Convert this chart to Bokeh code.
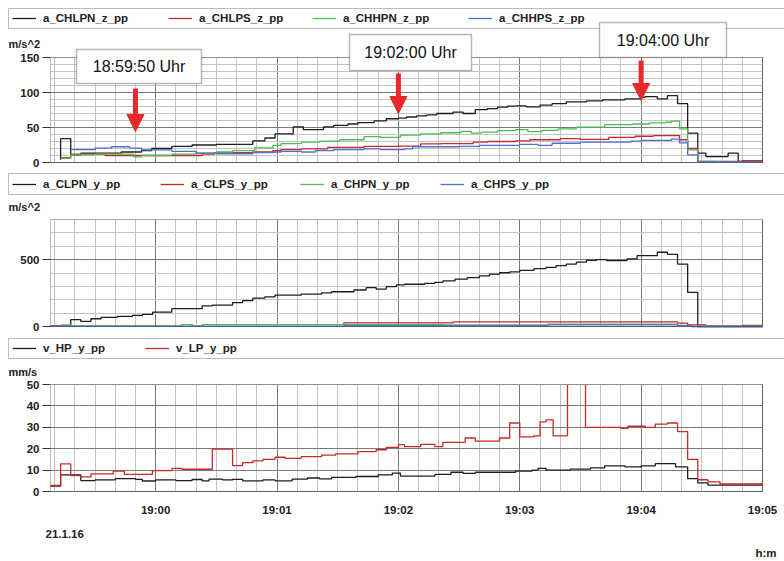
from bokeh.plotting import figure
from bokeh.layouts import column
from bokeh.models import (FixedTicker, Legend, LegendItem, Label, BoxAnnotation, Arrow,
                          NormalHead, Range1d, LinearAxis, Grid)
from bokeh.embed import file_html
from bokeh.resources import INLINE

# ---- time axis: seconds relative to 19:00:00 ----
X_START, X_END = -52, 300
tick_secs = [0, 60, 120, 180, 240, 300]
tick_labels = ["19:00", "19:01", "19:02", "19:03", "19:04", "19:05"]
minor_secs = list(range(-50, 301, 10))
date_label = "21.1.16"
time_unit = "h:m"

# ---- panel 1: z accelerations (m/s^2), step values (start time, value) ----
chlpn_z_t = [-47, -47, -42, -37, -17, -7, -2, 8, 18, 30, 48, 54, 59, 68, 73, 83, 88, 95, 100,
             108, 114, 120, 124, 129, 134, 139, 147, 152, 158, 164, 169, 174, 178, 183, 190,
             196, 203, 213, 221, 232, 240, 242, 248, 253, 258, 263, 268, 272, 283, 288, 300]
chlpn_z_v = [4, 34, 11, 13.5, 15, 17, 20, 23, 25, 26, 31, 35, 41, 51, 47, 51, 53, 55, 57,
             59.5, 62.5, 63.5, 65, 66.5, 68, 70, 72, 70, 75.5, 77, 79, 80.5, 81, 79.5, 82,
             84, 86.5, 88, 89.5, 91, 93, 94, 91, 95.5, 84, 42, 13.5, 8.5, 13.5, 1.5, 2]

chlps_z_t = [-47, -42, -25, 23, 29, 48, 58, 62, 72, 85, 103, 120, 131, 141, 157, 164, 178,
             185, 200, 210, 224, 237, 246, 259, 263, 268, 290, 300]
chlps_z_v = [7, 12, 10, 12, 14, 15, 17, 18.5, 19.5, 21.5, 23, 23.5, 26.5, 27, 29, 30, 31,
             32.5, 34, 33, 36, 37.5, 38.5, 32.5, 20, 1.5, 2.5, 2.5]

chhpn_z_t = [-47, -42, -30, -11, -7, 8, 20, 30, 38, 49, 58, 62, 72, 81, 91, 103, 111, 121,
             131, 141, 151, 156, 161, 169, 178, 184, 191, 199, 208, 222, 236, 244, 252, 255,
             259, 263, 268, 278, 300]
chhpn_z_v = [6, 11, 12, 8, 10, 12, 13.5, 15, 17, 21, 24.5, 27, 29, 30.5, 32.5, 37, 36, 39,
             41, 42.5, 44.5, 42, 43.5, 45.5, 47, 44, 46, 48, 50.5, 54, 55, 56.5, 57.5, 59,
             48, 18, 1.5, 0.5, 0.5]

chhps_z_t = [-42, -30, -22, -13, -7, 8, 20, 30, 48, 58, 62, 72, 79, 88, 103, 111, 123, 127,
             150, 160, 180, 189, 196, 210, 235, 240, 255, 259, 263, 268, 300]
chhps_z_v = [18.5, 20.5, 22.5, 20.5, 18, 16, 13.5, 12.5, 14, 15, 16, 15, 17, 18.5, 19.5,
             18.5, 19.5, 22.5, 23, 24.5, 26, 24.5, 27.5, 29, 30.5, 31.5, 33.5, 28, 11, 1, 1]

# ---- panel 2: y accelerations (m/s^2) ----
clpn_y_t = [-52, -42, -37, -32, -27, -19, -11.5, -6.5, -1.5, 8, 23, 28, 38, 43, 48, 54, 59,
            72, 82, 87, 98, 104, 109, 114, 119, 123, 133, 138, 142, 148, 154, 160, 165, 170,
            175, 180, 187, 193, 198, 203, 208, 213, 218, 223, 233, 238, 248, 253, 258, 263,
            268, 300]
clpn_y_v = [2, 51, 38, 58, 68, 75, 83, 91, 108, 134, 154, 160, 179, 194, 212, 222, 235,
            242, 252, 260, 273, 290, 280, 298, 311, 316, 323, 330, 341, 354, 366, 378, 391,
            402, 409, 419, 432, 442, 455, 467, 482, 495, 500, 492, 505, 530, 555, 540, 467,
            255, 0, 0]

clps_y_t = [-52, 13, 18, 23, 93, 147, 258, 263, 272, 290, 300]
clps_y_v = [3, 14, 2, 14, 27, 35, 25, 12, 2, 8, 8]

chpn_y_t = [-47, -42, 13, 18, 23, 93, 142, 194, 258, 265, 300]
chpn_y_v = [12, 2, 14, 2, 14, 14, 10, 18, 8, 0, 0]

chps_y_t = [-52, 93, 142, 194, 258, 265, 300]
chps_y_v = [1, 6, 9, 12, 6, 0, 0]

# ---- panel 3: velocities (mm/s) ----
hp_t = [-52, -47, -37, -30, -20, -10, -6.6, 0, 10, 18, 23, 26.4, 33, 38, 43, 53, 59, 67.5,
        75, 81, 87, 99, 110, 117, 121, 138, 146, 152, 158, 178, 186, 189, 193, 205, 215,
        222, 232, 240, 247, 257, 263, 268, 273, 300]
hp_v = [2.5, 7.8, 5.1, 5.4, 6, 5.7, 4.9, 5.4, 5.1, 5.6, 5, 5.8, 5.4, 5.7, 5, 5.4, 5, 5.8,
        6.3, 5.9, 6.6, 7, 7.8, 8.6, 7.2, 8, 9, 8.5, 9, 9.5, 10, 10.8, 10, 10.5, 11,
        12, 11.5, 12, 13, 11.5, 6, 4, 3, 3]

lp_t = [-52, -47, -42, -37, -32, -21, -15.5, -1.6, 8, 13, 28, 38, 43, 48, 53, 59, 64, 72,
        82, 89, 100, 109, 114, 120, 123, 131, 138, 142, 153, 158, 170, 175, 180, 187, 190,
        193, 196.5, 203.6, 212.5, 230, 233.5, 242, 247, 253, 258, 263, 268, 273, 279, 300]
lp_v = [2.8, 12.9, 7.4, 6.8, 8.2, 9.5, 8, 9.8, 10.8, 10.4, 19.8, 12.1, 13.5, 14.3, 15, 16,
        15.5, 16.3, 17, 17.6, 18.6, 19.5, 20.6, 21.9, 21, 22, 21, 23, 25, 23.5, 25, 32,
        25.5, 26, 32.5, 33.5, 26, 60, 30, 29.5, 30.5, 30, 31.5, 32, 28, 15, 5.5, 4.5, 3.5,
        3.5]

# ---- event markers ----
event_secs = [-10, 120, 240]
event_texts = ["18:59:50 Uhr", "19:02:00 Uhr", "19:04:00 Uhr"]

BLACK = "#1e1e1e"
RED = "#c8282a"
GREEN = "#4cbf4c"
BLUE = "#4f6fd2"
ARROW_RED = "#e8282a"
MAJOR_GRID = "#7a7a7a"
MINOR_GRID = "#c4c4c4"
FONT = "Liberation Sans"
FS = "11.5px"

W = 784
WIN_L, WIN_R = 50, 762          # pixel span of the plotting window


def sx(px):
    """canvas x pixel -> seconds"""
    return X_START + (px - WIN_L) * (X_END - X_START) / (WIN_R - WIN_L)


def make_panel(height, w_top, w_bot, y_end, y_ticks, y_minor, names, series, colors,
               unit, unit_py, strip, item_px):
    def sy(py):
        return (w_bot - py) * y_end / (w_bot - w_top)

    # the frame covers the whole canvas; the data window is bounded by the axes below
    p = figure(width=W, height=height, output_backend="svg", toolbar_location=None,
               x_range=Range1d(sx(0), sx(W)), y_range=Range1d(sy(height), sy(0)),
               x_axis_location=None, y_axis_location=None,
               min_border=0, min_border_left=0, min_border_right=0,
               min_border_top=0, min_border_bottom=0)
    p.background_fill_color = "white"
    p.border_fill_color = "white"
    p.outline_line_color = None
    p.xgrid.visible = False
    p.ygrid.visible = False

    xt = FixedTicker(ticks=tick_secs, minor_ticks=minor_secs)
    yt = FixedTicker(ticks=y_ticks, minor_ticks=y_minor)

    gx = Grid(dimension=0, ticker=xt, bounds=(X_START, X_END),
              grid_line_color=MAJOR_GRID, minor_grid_line_color=MINOR_GRID)
    gy = Grid(dimension=1, ticker=yt, bounds=(0, y_end),
              grid_line_color=MAJOR_GRID, minor_grid_line_color=MINOR_GRID)
    gx.cross_bounds = (0, y_end)
    gy.cross_bounds = (X_START, X_END)
    p.add_layout(gx)
    p.add_layout(gy)

    yax = LinearAxis(fixed_location=X_START, ticker=yt, bounds=(0, y_end))
    yax.axis_line_color = None
    yax.major_tick_out = 8
    yax.major_tick_in = 0
    yax.major_tick_line_color = "#333"
    yax.minor_tick_out = 0
    yax.minor_tick_in = 0
    yax.major_label_standoff = 3
    yax.major_label_text_font = FONT
    yax.major_label_text_font_style = "bold"
    yax.major_label_text_font_size = FS
    yax.major_label_text_color = "#222"
    p.add_layout(yax, "left")

    renderers = []
    for (xs, ys), c in zip(series, colors):
        renderers.append(p.step(xs, ys, mode="after", line_color=c, line_width=1.3))

    # white band above the window keeps off-scale values out of the header
    p.add_layout(BoxAnnotation(left=X_START, right=X_END, bottom=y_end, top=sy(strip[1] + 2),
                               fill_color="white", fill_alpha=1, line_alpha=0))
    # window border
    p.add_layout(BoxAnnotation(left=X_START, right=X_END, bottom=0, top=y_end,
                               fill_alpha=0, line_color="#2a2a2a", line_width=1))

    # legend strip: frame plus one legend entry per series at its slot
    lt, lb = strip
    p.add_layout(BoxAnnotation(left=sx(8), right=sx(W + 10), top=sy(lt), bottom=sy(lb),
                               fill_alpha=0, line_color="#222", line_width=1))
    mid = (lt + lb) / 2
    for name, r, x0 in zip(names, renderers, item_px):
        leg = Legend(items=[LegendItem(label=name, renderers=[r])],
                     location=(x0, height - (mid + 6)),
                     glyph_width=24, glyph_height=12, label_height=12, label_standoff=7,
                     label_width=20, padding=0, margin=0,
                     border_line_alpha=0, background_fill_alpha=0,
                     label_text_font=FONT, label_text_font_style="bold",
                     label_text_font_size=FS, label_text_color="#222")
        p.add_layout(leg)

    p.add_layout(Label(x=sx(8), y=sy(unit_py), text=unit, text_align="left",
                       text_baseline="middle", text_font=FONT, text_font_style="bold",
                       text_font_size="11px", text_color="#222"))
    return p, sy


# ---- top panel ----
p1, sy1 = make_panel(
    170, 57, 162, 150, [0, 50, 100, 150], list(range(10, 150, 10)),
    ["a_CHLPN_z_pp", "a_CHLPS_z_pp", "a_CHHPN_z_pp", "a_CHHPS_z_pp"],
    [(chlpn_z_t, chlpn_z_v), (chlps_z_t, chlps_z_v), (chhpn_z_t, chhpn_z_v), (chhps_z_t, chhps_z_v)],
    [BLACK, RED, GREEN, BLUE], "m/s^2", 43, (8, 28), [12, 168, 312, 468])

# event boxes with arrows pointing at the event time
box_px = [(76, 201, 49, 83), (349, 471, 34, 70), (599, 726, 22, 57)]
arrow_px = [(88, 131), (73, 113), (60, 100)]
for t, txt, (l, r, tp, bt), (a0, a1) in zip(event_secs, event_texts, box_px, arrow_px):
    p1.add_layout(BoxAnnotation(left=sx(l), right=sx(r), top=sy1(tp), bottom=sy1(bt),
                                fill_color="white", fill_alpha=1,
                                line_color="#111", line_width=1.5))
    p1.add_layout(Label(x=sx((l + r) / 2), y=sy1((tp + bt) / 2), text=txt,
                        text_align="center", text_baseline="middle", text_font=FONT,
                        text_font_size="16px", text_color="#111"))
    p1.add_layout(Arrow(x_start=t, y_start=sy1(a0), x_end=t, y_end=sy1(a1),
                        line_color=ARROW_RED, line_width=5,
                        end=NormalHead(size=17, fill_color=ARROW_RED, line_color=ARROW_RED)))

# ---- middle panel ----
p2, sy2 = make_panel(
    166, 49, 156, 800, [0, 500], [100, 200, 300, 400, 600, 700, 800],
    ["a_CLPN_y_pp", "a_CLPS_y_pp", "a_CHPN_y_pp", "a_CHPS_y_pp"],
    [(clpn_y_t, clpn_y_v), (clps_y_t, clps_y_v), (chpn_y_t, chpn_y_v), (chps_y_t, chps_y_v)],
    [BLACK, RED, GREEN, BLUE], "m/s^2", 36, (3, 24), [12, 160, 300, 440])

# ---- bottom panel ----
p3, sy3 = make_panel(
    225, 48, 155, 50, [0, 10, 20, 30, 40, 50], [],
    ["v_HP_y_pp", "v_LP_y_pp"],
    [(hp_t, hp_v), (lp_t, lp_v)],
    [BLACK, RED], "mm/s", 35, (2, 22), [12, 145])

xax = LinearAxis(fixed_location=0, ticker=FixedTicker(ticks=tick_secs),
                 bounds=(X_START, X_END))
xax.major_label_overrides = {t: l for t, l in zip(tick_secs, tick_labels)}
xax.axis_line_color = None
xax.major_tick_out = 0
xax.major_tick_in = 0
xax.minor_tick_out = 0
xax.minor_tick_in = 0
xax.major_label_standoff = 12
xax.major_label_text_font = FONT
xax.major_label_text_font_style = "bold"
xax.major_label_text_font_size = FS
xax.major_label_text_color = "#222"
p3.add_layout(xax, "below")

p3.add_layout(Label(x=sx(45), y=sy3(197), text=date_label, text_align="left",
                    text_baseline="middle", text_font=FONT, text_font_style="bold",
                    text_font_size=FS, text_color="#222"))
p3.add_layout(Label(x=sx(776), y=sy3(216), text=time_unit, text_align="right",
                    text_baseline="middle", text_font=FONT, text_font_style="bold",
                    text_font_size=FS, text_color="#222"))

layout = column(p1, p2, p3, spacing=0)
open("out.html", "w").write(file_html(layout, INLINE))
